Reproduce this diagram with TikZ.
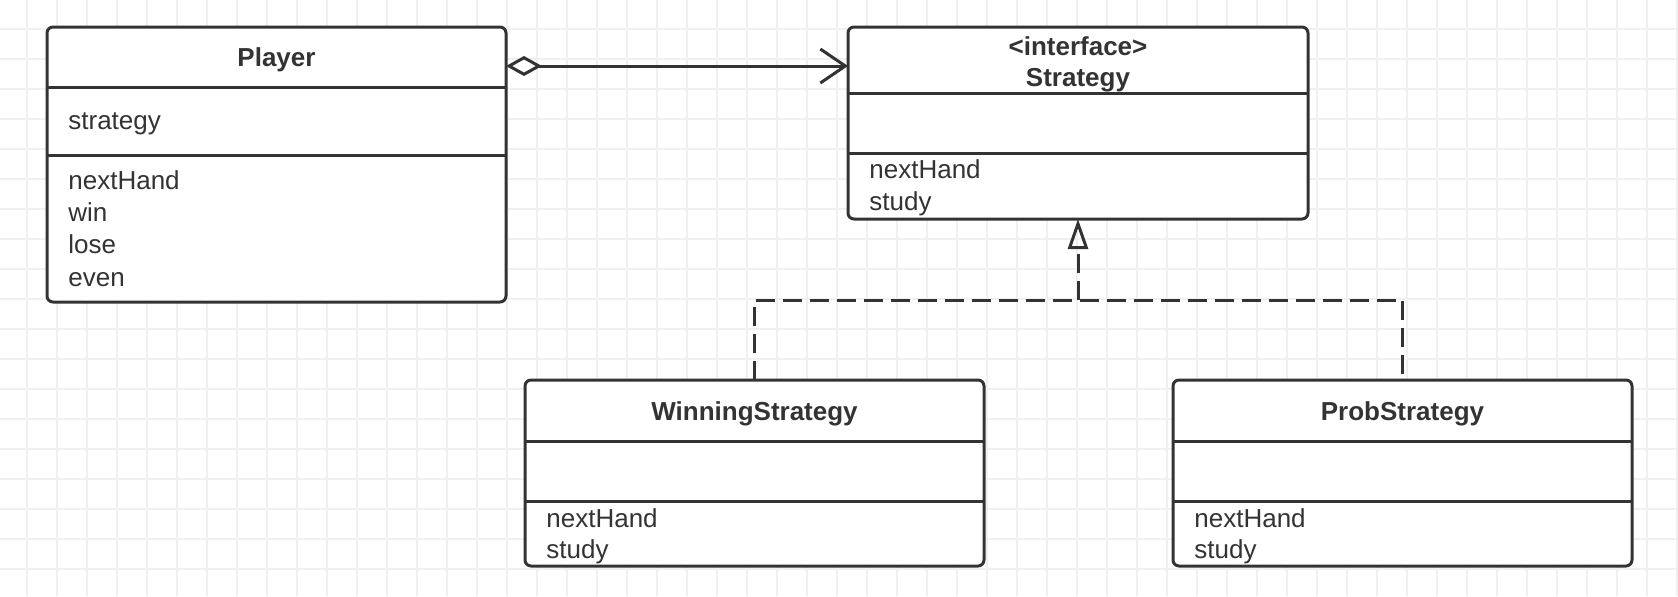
\documentclass[tikz,border=0pt]{standalone}
\usepackage{fontspec}
\setmainfont{Liberation Sans}
\usepackage{tikz}
\usetikzlibrary{arrows.meta}
\definecolor{umlgray}{HTML}{333333}
\definecolor{gridgray}{HTML}{F0F0F0}
\tikzset{
    classbox/.style={draw=umlgray, line width=1.5pt, fill=white, rounded corners=3pt, inner sep=0pt, outer sep=0pt, anchor=north west, minimum width=229.5pt},
    classline/.style={draw=umlgray, line width=1.5pt},
    classname/.style={text=umlgray, font=\fontsize{13pt}{15.5pt}\selectfont\bfseries, align=center, inner sep=0pt},
    member/.style={text=umlgray, font=\fontsize{13pt}{16pt}\selectfont, anchor=base west, inner sep=0pt},
    realizeline/.style={classline, dash pattern=on 9.5pt off 4pt},
    gridline/.style={draw=gridgray, line width=1pt}
}

\begin{document}
\begin{tikzpicture}[x=0.5pt,y=-0.5pt]
\fill[white] (0,0) rectangle (1678,596);
\useasboundingbox (0,0) rectangle (1678,596);
% grid
\foreach \gx in {27,57,...,1677} \draw[gridline] (\gx,0) -- (\gx,596);
\foreach \gy in {29,59,...,569} \draw[gridline] (0,\gy) -- (1678,\gy);
% classes
\node[classbox, minimum height=137.5pt] (player) at (47,27) {};
\node[classbox, minimum width=230pt, minimum height=96pt] (strategy) at (848,27) {};
\node[classbox, minimum height=93pt] (winning) at (525,380) {};
\node[classbox, minimum height=93pt] (prob) at (1173,380) {};
% compartments
\draw[classline] ([yshift=-30pt]player.north west) -- ([yshift=-30pt]player.north east);
\draw[classline] ([yshift=-64pt]player.north west) -- ([yshift=-64pt]player.north east);
\draw[classline] ([yshift=-33pt]strategy.north west) -- ([yshift=-33pt]strategy.north east);
\draw[classline] ([yshift=-63pt]strategy.north west) -- ([yshift=-63pt]strategy.north east);
\foreach \c in {winning,prob} {
  \draw[classline] ([yshift=-30.5pt]\c.north west) -- ([yshift=-30.5pt]\c.north east);
  \draw[classline] ([yshift=-60.5pt]\c.north west) -- ([yshift=-60.5pt]\c.north east);
}
% names
\node[classname] (playername) at ([yshift=-16.5pt]player.north) {Player};
\node[classname] (strategyname) at ([yshift=-18.5pt]strategy.north) {<interface>\\Strategy};
\node[classname] (winningname) at ([yshift=-17pt]winning.north) {WinningStrategy};
\node[classname] (probname) at ([yshift=-17pt]prob.north) {ProbStrategy};
% members
\node[member] (playerattr) at ([xshift=10.5pt,yshift=-51pt]player.north west) {strategy};
\foreach \m [count=\i] in {nextHand,win,lose,even}
  \node[member] (playerop\i) at ([xshift=10.5pt,yshift={-81pt-16.2pt*(\i-1)}]player.north west) {\m};
\foreach \m [count=\i] in {nextHand,study}
  \node[member] (strategyop\i) at ([xshift=10.5pt,yshift={-75.5pt-16pt*(\i-1)}]strategy.north west) {\m};
\foreach \c in {winning,prob}
  \foreach \m [count=\i] in {nextHand,study}
    \node[member] (\c op\i) at ([xshift=10.5pt,yshift={-73.5pt-15.5pt*(\i-1)}]\c.north west) {\m};
% aggregation
\coordinate (aggstart) at ([yshift=-19.5pt]player.north east);
\draw[classline, {Diamond[open,length=18pt,width=10pt]}-{Straight Barb[length=12.5pt,width=17pt]}] (aggstart) -- (aggstart -| strategy.west);
% realization
\coordinate (junction) at ([yshift=40pt]winning.north);
\draw[realizeline] (winning.north) -- (junction) -| (prob.north);
\draw[realizeline, -{Triangle[open,length=15pt,width=10pt]}] (junction -| strategy.south) -- (strategy.south);
\end{tikzpicture}
\end{document}
